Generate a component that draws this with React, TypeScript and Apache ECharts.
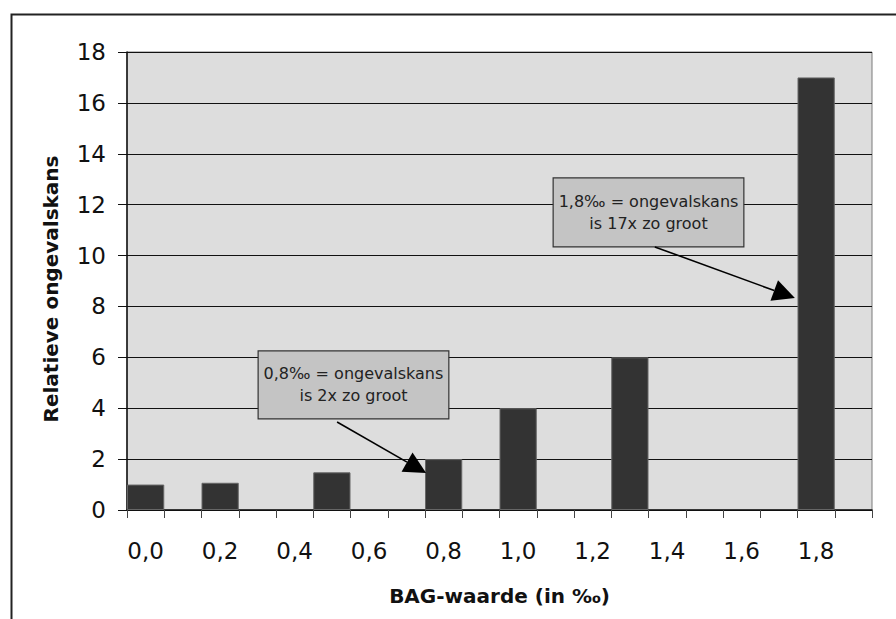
import React, { useEffect, useRef } from 'react';
import * as echarts from 'echarts';

// Categories along the BAG axis (step 0,1 ‰); labels show every other one
const categories = ['0,0', '0,1', '0,2', '0,3', '0,4', '0,5', '0,6', '0,7', '0,8', '0,9',
  '1,0', '1,1', '1,2', '1,3', '1,4', '1,5', '1,6', '1,7', '1,8', '1,9'];
// Measured BAG values and relative accident risk
const bagValues = ['0,0', '0,2', '0,5', '0,8', '1,0', '1,3', '1,8'];
const relativeRisk = [1.0, 1.07, 1.48, 2, 4, 6, 17];

const yMin = 0;
const yMax = 18;
const yInterval = 2;

const xTitle = 'BAG-waarde (in ‰)';
const yTitle = 'Relatieve ongevalskans';

// Annotations (in data units of BAG value / relative risk)
const annotationLines = [
  ['0,8‰ = ongevalskans', 'is 2x zo groot'],
  ['1,8‰ = ongevalskans', 'is 17x zo groot'],
];
const annotationBoxes = [
  { x0: 0.302, x1: 0.814, y0: 6.25, y1: 3.58 },
  { x0: 1.094, x1: 1.606, y0: 13.05, y1: 10.34 },
];
const annotationArrows = [
  { from: [0.514, 3.46], to: [0.753, 1.45] },
  { from: [1.367, 10.34], to: [1.743, 8.33] },
];

const FONT = '"DejaVu Sans", "Open Sans", sans-serif';

export default function App() {
  const ref = useRef<HTMLDivElement>(null);

  useEffect(() => {
    if (!ref.current) return;
    const chart = echarts.init(ref.current, undefined, { renderer: 'svg' });

    const seriesData = categories.map((c) => {
      const i = bagValues.indexOf(c);
      return i >= 0 ? relativeRisk[i] : '-';
    });

    chart.setOption({
      animation: false,
      backgroundColor: '#ffffff',
      textStyle: { fontFamily: FONT },
      grid: {
        left: 127,
        right: 24,
        top: 52,
        bottom: 109,
        show: true,
        backgroundColor: '#DDDDDD',
        borderColor: '#7a7a7a',
        borderWidth: 1,
      },
      xAxis: [
        {
          type: 'category',
          data: categories,
          boundaryGap: true,
          name: xTitle,
          nameLocation: 'middle',
          nameGap: 76,
          nameTextStyle: { fontSize: 20, fontWeight: 'bold', color: '#111', fontFamily: FONT },
          axisLine: { show: true, onZero: false, lineStyle: { color: '#111', width: 1.5 } },
          axisTick: { show: true, interval: 0, alignWithLabel: false, length: 8, lineStyle: { color: '#444' } },
          axisLabel: { interval: 1, fontSize: 23, color: '#111', margin: 29, fontFamily: FONT },
          splitLine: { show: false },
        },
        {
          type: 'value',
          min: -0.05,
          max: 1.95,
          show: false,
          gridIndex: 0,
          axisLine: { onZero: false },
        },
      ],
      yAxis: {
        type: 'value',
        min: yMin,
        max: yMax,
        interval: yInterval,
        name: yTitle,
        nameLocation: 'middle',
        nameRotate: 90,
        nameGap: 66,
        nameTextStyle: {
          fontSize: 20,
          fontWeight: 'bold',
          color: '#111',
          fontFamily: FONT,
          padding: [0, 16, 0, 0],
        },
        axisLine: { show: true, onZero: false, lineStyle: { color: '#111', width: 1.5 } },
        axisTick: { show: true, length: 9, lineStyle: { color: '#111' } },
        axisLabel: { fontSize: 23, color: '#111', margin: 21, fontFamily: FONT },
        splitLine: { show: true, lineStyle: { color: '#111', width: 1 } },
      },
      series: [
        {
          type: 'bar',
          data: seriesData,
          barWidth: '100%',
          itemStyle: { color: '#333333', borderColor: '#666666', borderWidth: 1 },
        },
      ],
    });

    const px = (p: number[]) =>
      chart.convertToPixel({ xAxisIndex: 1, yAxisIndex: 0 }, p) as number[];

    const graphics: any[] = [
      {
        type: 'rect',
        left: 9,
        top: 12,
        shape: { x: 0, y: 0, width: 1000, height: 800 },
        style: { fill: 'none', stroke: '#222', lineWidth: 2 },
        z: 100,
        silent: true,
      },
    ];

    annotationBoxes.forEach((b, i) => {
      const p0 = px([b.x0, b.y0]);
      const p1 = px([b.x1, b.y1]);
      const x = Math.min(p0[0], p1[0]);
      const y = Math.min(p0[1], p1[1]);
      const w = Math.abs(p1[0] - p0[0]);
      const h = Math.abs(p1[1] - p0[1]);
      graphics.push({
        type: 'rect',
        shape: { x, y, width: w, height: h },
        style: { fill: '#C4C4C4', stroke: '#333', lineWidth: 1.2 },
        z: 50,
      });
      graphics.push({
        type: 'text',
        x: x + w / 2,
        y: y + h / 2,
        style: {
          text: annotationLines[i].join('\n'),
          fontSize: 16,
          lineHeight: 22,
          fontFamily: FONT,
          fill: '#222',
          align: 'center',
          verticalAlign: 'middle',
        },
        z: 51,
      });
    });

    annotationArrows.forEach((a) => {
      const s = px(a.from);
      const e = px(a.to);
      const dx = e[0] - s[0];
      const dy = e[1] - s[1];
      const len = Math.sqrt(dx * dx + dy * dy);
      const ux = dx / len;
      const uy = dy / len;
      const headLen = 22;
      const headHalf = 11;
      const bx = e[0] - ux * headLen;
      const by = e[1] - uy * headLen;
      graphics.push({
        type: 'line',
        shape: { x1: s[0], y1: s[1], x2: bx, y2: by },
        style: { stroke: '#000', lineWidth: 1.6 },
        z: 52,
      });
      graphics.push({
        type: 'polygon',
        shape: {
          points: [
            [e[0], e[1]],
            [bx - uy * headHalf, by + ux * headHalf],
            [bx + uy * headHalf, by - ux * headHalf],
          ],
        },
        style: { fill: '#000' },
        z: 52,
      });
    });

    chart.setOption({ graphic: graphics });

    return () => {
      chart.dispose();
    };
  }, []);

  return (
    <div
      ref={ref}
      style={{ position: 'fixed', left: 0, top: 0, width: 896, height: 619, background: '#fff' }}
    />
  );
}
